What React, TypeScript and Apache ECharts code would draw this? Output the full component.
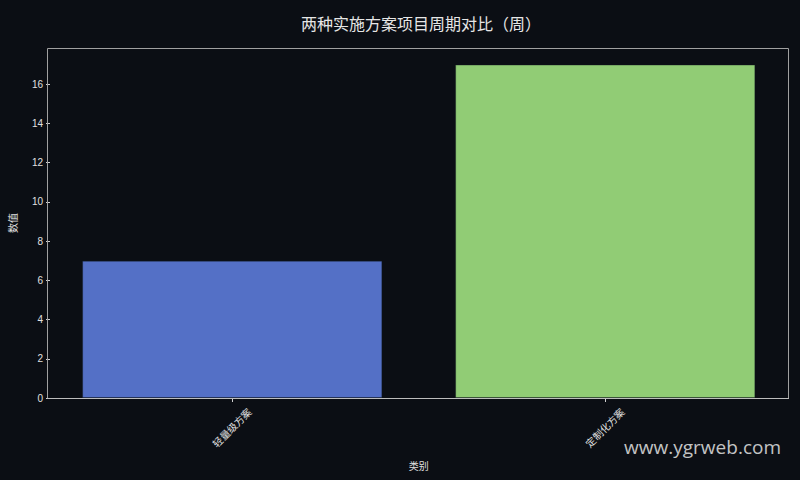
import React, { useEffect, useRef } from 'react';
import * as echarts from 'echarts';

const categories = ['轻量级方案', '定制化方案'];
const weeks = [7, 17];
const barColors = ['#5470c6', '#91cc75'];
const yTicks = [0, 2, 4, 6, 8, 10, 12, 14, 16];

const FONT = '"Liberation Sans", "Noto Sans CJK SC", sans-serif';

// plot frame (pixels)
const PLOT_L = 47;
const PLOT_R = 788;
const PLOT_T = 48;
const PLOT_B = 398;

const App: React.FC = () => {
  const chartRef = useRef<HTMLDivElement>(null);

  useEffect(() => {
    document.body.style.margin = '0';
    if (!chartRef.current) return;
    const chart = echarts.init(chartRef.current, null, { renderer: 'svg' });
    // category bands slightly wider than the frame, like matplotlib's margins
    const gridLeft = 42.75;
    const gridRight = 8.25;
    const option = {
      animation: false,
      backgroundColor: '#0b0e14',
      title: {
        text: '两种实施方案项目周期对比（周）',
        left: 416,
        top: 10,
        textAlign: 'center',
        textStyle: {
          color: '#e6e6e6',
          fontSize: 16,
          fontWeight: 'normal',
          fontFamily: '"Noto Sans CJK KR", "Noto Sans CJK SC", sans-serif',
        },
      },
      grid: {
        left: gridLeft,
        right: gridRight,
        top: PLOT_T,
        bottom: 480 - PLOT_B,
        show: false,
      },
      xAxis: {
        type: 'category',
        data: categories,
        name: '类别',
        nameLocation: 'middle',
        nameGap: 63,
        nameTextStyle: { color: '#e0e0e0', fontSize: 10, fontFamily: FONT },
        axisLine: { show: false },
        axisTick: { show: true, alignWithLabel: true, length: 4, lineStyle: { color: '#d0d0d0' } },
        axisLabel: {
          rotate: 45,
          align: 'center',
          verticalAlign: 'middle',
          color: '#e0e0e0',
          fontSize: 10,
          margin: 30,
          fontFamily: FONT,
        },
      },
      yAxis: {
        type: 'value',
        min: 0,
        max: 17.85,
        interval: 2,
        offset: gridLeft - PLOT_L,
        name: '数值',
        nameLocation: 'middle',
        nameGap: 32,
        nameRotate: 90,
        nameTextStyle: { color: '#e0e0e0', fontSize: 10, fontFamily: FONT },
        splitLine: { show: false },
        axisLine: { show: false },
        axisTick: { show: true, length: 4, lineStyle: { color: '#d0d0d0' } },
        axisLabel: {
          color: '#e0e0e0',
          fontSize: 10,
          margin: 7,
          fontFamily: FONT,
          showMaxLabel: false,
          formatter: (v: number) => (yTicks.includes(v) ? String(v) : ''),
        },
      },
      series: [
        {
          type: 'bar',
          barWidth: 300,
          data: weeks.map((v, i) => ({
            value: v,
            itemStyle: { color: barColors[i], borderColor: 'rgba(20,30,40,0.45)', borderWidth: 0.8 },
          })),
        },
      ],
      graphic: [
        {
          type: 'rect',
          z: 100,
          silent: true,
          shape: { x: PLOT_L + 0.5, y: PLOT_T + 0.5, width: PLOT_R - PLOT_L, height: PLOT_B - PLOT_T },
          style: { fill: 'none', stroke: '#a0a0a0', lineWidth: 1 },
        },
        {
          type: 'line',
          z: 101,
          silent: true,
          shape: { x1: PLOT_L, y1: PLOT_B + 0.5, x2: PLOT_R + 1, y2: PLOT_B + 0.5 },
          style: { stroke: '#bdbdbd', lineWidth: 1 },
        },
        {
          type: 'text',
          right: 19,
          top: 437,
          style: {
            text: 'www.ygrweb.com',
            fill: 'rgba(230,230,230,0.85)',
            fontSize: 19,
            fontFamily: '"Open Sans", "DejaVu Sans", sans-serif',
          },
        },
      ],
    };
    chart.setOption(option as any);
    return () => {
      chart.dispose();
    };
  }, []);

  return <div ref={chartRef} style={{ width: 800, height: 480 }} />;
};

export default App;
